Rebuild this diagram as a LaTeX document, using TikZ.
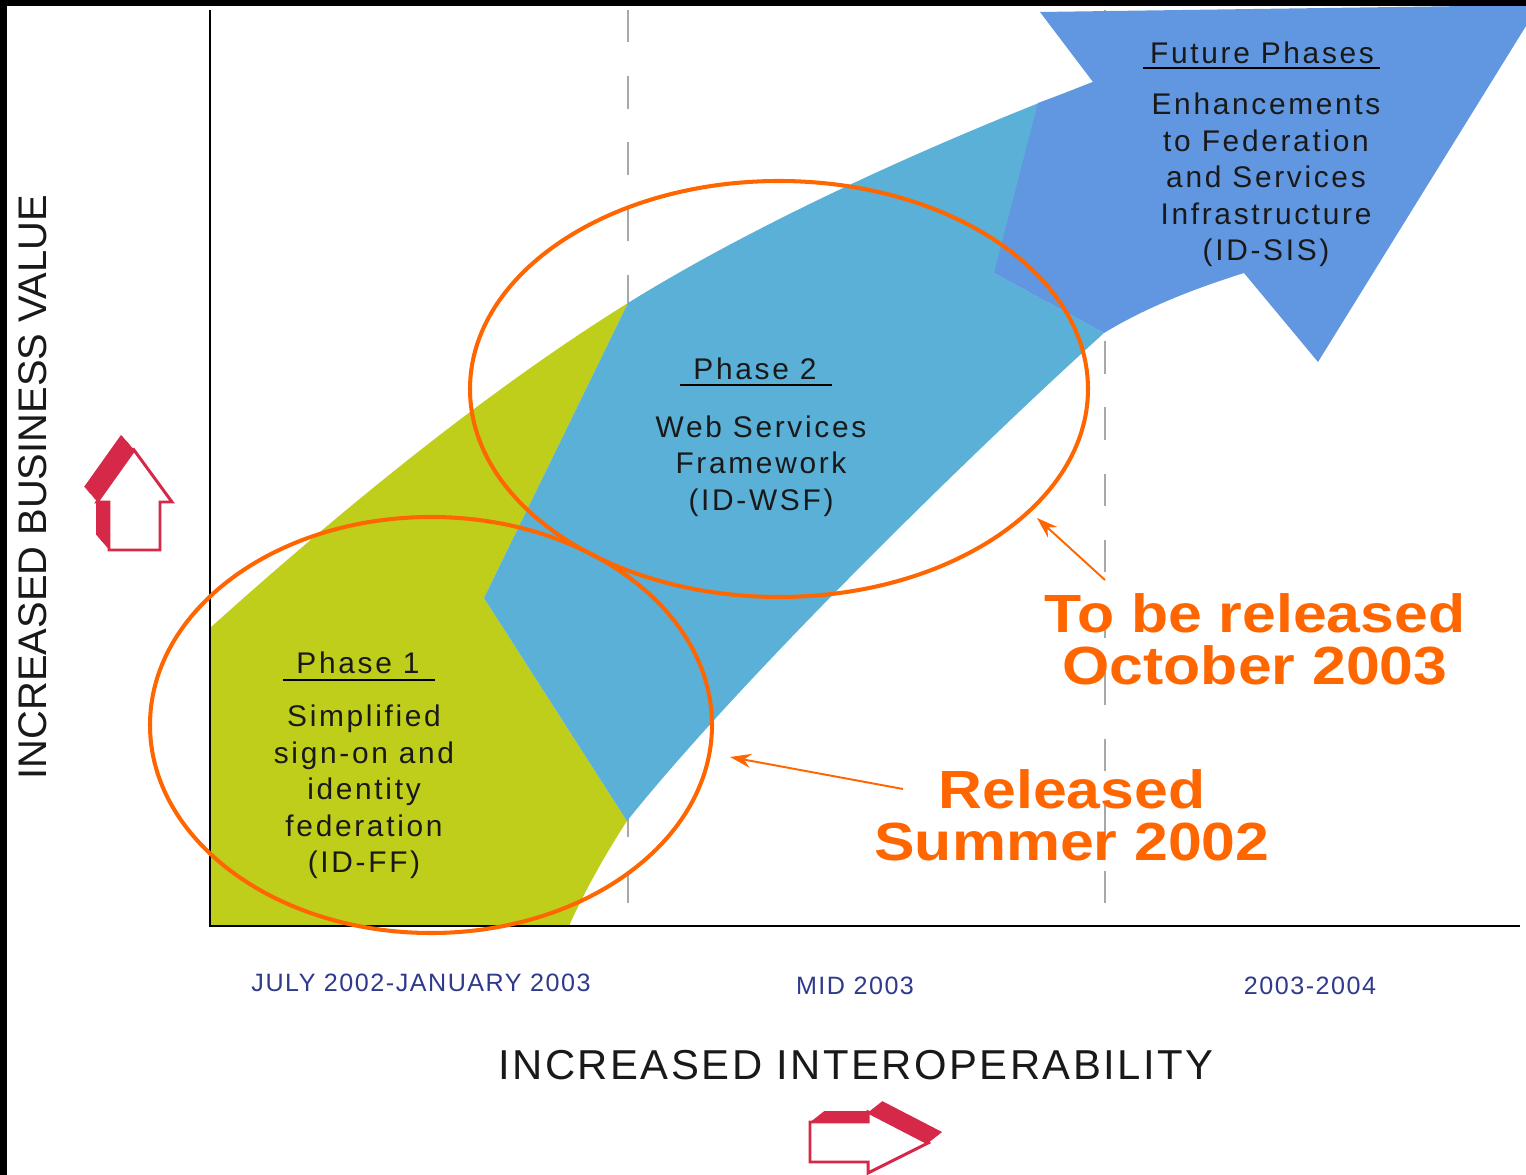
\documentclass[tikz,border=0pt]{standalone}
\usepackage{fontspec}
\setmainfont{Liberation Sans}
\newfontfamily\phasefont[LetterSpace=9]{Liberation Sans}
\newfontfamily\axisfont[LetterSpace=6]{Liberation Sans}
\newfontfamily\datefont[LetterSpace=6]{Liberation Sans}
\newfontfamily\calloutfont[FakeStretch=1.13]{Liberation Sans}
\usetikzlibrary{positioning}
\usetikzlibrary{arrows.meta}

\definecolor{phasegreen}{RGB}{191,206,26}
\definecolor{phasecyan}{RGB}{90,176,214}
\definecolor{phaseblue}{RGB}{97,151,224}
\definecolor{callout}{RGB}{255,102,0}
\definecolor{datenavy}{RGB}{48,58,140}
\definecolor{arrowred}{RGB}{214,40,72}
\definecolor{dashgray}{RGB}{168,168,168}

\begin{document}
\begin{tikzpicture}
	[x=0.02cm, y=-0.02cm,
	phasetext/.style={align=center, inner sep=0pt, text=black!90, font=\phasefont\fontsize{17}{20.7}\selectfont},
	datelabel/.style={inner sep=0pt, text=datenavy, font=\datefont\fontsize{14.3}{17}\selectfont},
	axislabel/.style={inner sep=0pt, text=black!90, font=\axisfont\fontsize{23.8}{28}\selectfont},
	callouttext/.style={align=center, inner sep=0pt, text=callout, font=\calloutfont\bfseries\fontsize{30.6}{29.5}\selectfont},
	ring/.style={draw=callout, line width=2.3pt},
	pointer/.style={draw=callout, line width=1.1pt, -{Stealth[length=12pt,width=8pt]}},
	periodline/.style={draw=dashgray, line width=1.1pt, dash pattern=on 18.4pt off 19.3pt},
	redoutline/.style={fill=white, draw=arrowred, line width=1.7pt}]

\useasboundingbox (0,0) rectangle (1526,1175);
\clip (0,0) rectangle (1526,1175);
\fill[white] (0,0) rectangle (1526,1175);

% period boundaries
\draw[periodline] (628,10) -- (628,905);
\draw[periodline] (1105,10) -- (1105,905);

% phase bands
\fill[phasegreen] (210,628) .. controls (330,520) and (480,395) .. (628,303) -- (484,598) -- (627,821) .. controls (608,850) and (585,890) .. (569,926) -- (210,926) -- cycle;
\fill[phasecyan] (628,303) .. controls (760,221) and (940,140) .. (1093,82) -- (994,273) -- (1104,333) .. controls (974,451) and (744,675) .. (627,821) -- (484,598) -- cycle;
\fill[phaseblue] (1040,12) -- (1093,82) -- (1066,93) -- (1038,103) -- (994,273) -- (1104,333) .. controls (1150,305) and (1200,287) .. (1244,273) -- (1318,362) -- (1539,5) -- cycle;

% axes
\draw[line width=1.6pt] (210,10) -- (210,926) -- (1520,926);

% phase texts
\node[phasetext] (futurehead) at (1262,53) {Future Phases};
\draw[line width=1.4pt] (1143,68) -- (1380,68);
\node[phasetext] (futurebody) at (1266,180) {Enhancements\\to Federation\\and Services\\Infrastructure\\(ID-SIS)};
\node[phasetext] (ph2head) at (755,369) {Phase 2};
\draw[line width=1.4pt] (680,385) -- (832,385);
\node[phasetext] (ph2body) at (761,466) {Web Services\\Framework\\(ID-WSF)};
\node[phasetext] (ph1head) at (358,663) {Phase 1};
\draw[line width=1.4pt] (283,680) -- (435,680);
\node[phasetext] (ph1body) at (364,792) {Simplified\\sign-on and\\identity\\federation\\(ID-FF)};

% dates and axis labels
\node[datelabel] (datefirst) at (421,983) {JULY 2002-JANUARY 2003};
\node[datelabel] (datemid) at (855,986) {MID 2003};
\node[datelabel] (datelast) at (1310,986) {2003-2004};
\node[axislabel] (xlabel) at (856,1065) {INCREASED INTEROPERABILITY};
\node[inner sep=0pt, text=black!90, rotate=90, font=\fontsize{22.7}{27}\selectfont] (ylabel) at (33,487) {INCREASED BUSINESS VALUE};

% releases
\draw[ring] (431,725) ellipse [x radius=281, y radius=208];
\draw[ring] (779,389) ellipse [x radius=309, y radius=208];
\node[callouttext] (soon) at (1255,639) {To be released\\October 2003};
\node[callouttext] (done) at (1072,815) {Released\\Summer 2002};
\coordinate (soontail) at (1105,580);
\coordinate (soontip) at (1037,518);
\coordinate (donetail) at (903,789);
\coordinate (donetip) at (730,757);
\draw[pointer] (soontail) -- (soontip);
\draw[pointer] (donetail) -- (donetip);

% red 3d arrows
\foreach \k in {0,0.5,...,13}
	\fill[arrowred, shift={(-\k,{-15*\k/13})}] (134,450) -- (172,502) -- (160,502) -- (160,550) -- (109,550) -- (109,502) -- (97,502) -- cycle;
\filldraw[redoutline] (134,450) -- (172,502) -- (160,502) -- (160,550) -- (109,550) -- (109,502) -- (97,502) -- cycle;
\foreach \k in {0,0.5,...,14}
	\fill[arrowred, shift={(\k,{-11*\k/14})}] (810,1122) -- (868,1122) -- (868,1112) -- (928,1143) -- (868,1173) -- (868,1162) -- (810,1162) -- cycle;
\filldraw[redoutline] (810,1122) -- (868,1122) -- (868,1112) -- (928,1143) -- (868,1173) -- (868,1162) -- (810,1162) -- cycle;

% frame
\fill[black] (0,0) rectangle (1526,6);
\fill[black] (0,0) rectangle (7,1175);

\end{tikzpicture}
\end{document}
